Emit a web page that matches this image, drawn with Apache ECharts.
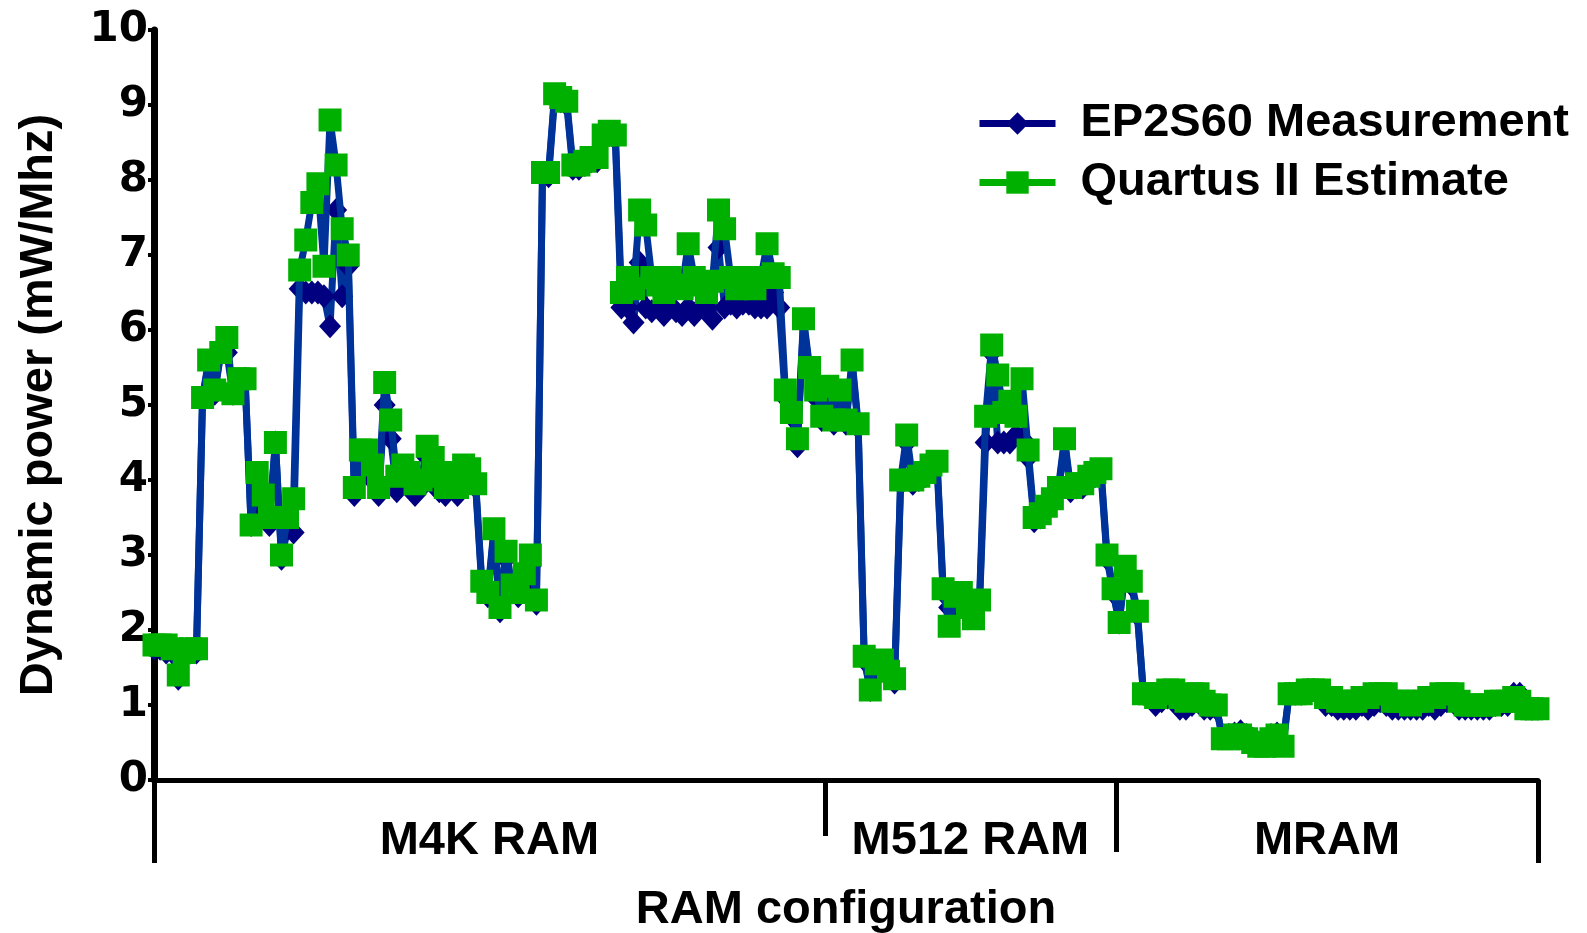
<!DOCTYPE html>
<html><head><meta charset="utf-8">
<script src="https://cdn.jsdelivr.net/npm/echarts@6/dist/echarts.min.js"></script>
<style>html,body{margin:0;padding:0;background:#fff}#c{width:1587px;height:933px}</style>
</head><body><div id="c"></div>
<script>
// ---- Data ----
const groupNames = ['M4K RAM', 'M512 RAM', 'MRAM'];
const yTicks = [0, 1, 2, 3, 4, 5, 6, 7, 8, 9, 10];

const m4kEstimate = [
  1.8, 1.8, 1.8, 1.75, 1.4, 1.7, 1.75, 1.75,
  5.1, 5.6, 5.2, 5.7, 5.9, 5.15, 5.35, 5.35,
  3.4, 4.1, 3.8, 3.5, 4.5, 3.0, 3.5, 3.75,
  6.8, 7.2, 7.7, 7.95, 6.85, 8.8, 8.2, 7.35, 7.0,
  3.9, 4.4, 4.4, 4.2, 3.9, 5.3, 4.8, 4.05, 4.2, 4.1, 3.95, 4.0, 4.45, 4.3, 4.05, 3.9, 4.1, 3.9, 4.2, 4.15, 3.95,
  2.65, 2.5, 3.35, 2.3, 3.05, 2.6, 2.5, 2.75, 3.0, 2.4,
  8.1, 8.1, 9.15, 9.1, 9.05, 8.2, 8.2, 8.25, 8.3, 8.3, 8.6, 8.65, 8.6,
  6.5, 6.7, 6.55, 7.6, 7.4, 6.7, 6.6, 6.5, 6.7, 6.6, 6.55, 7.15, 6.7, 6.6, 6.5, 6.65, 7.6, 7.35, 6.7, 6.55, 6.7, 6.6, 6.55, 6.7, 7.15, 6.75, 6.7,
  5.2, 4.9, 4.55, 6.15, 5.5, 5.2, 4.85
];
const m4kMeasured = [
  1.75, 1.75, 1.7, 1.7, 1.35, 1.65, 1.7, 1.7,
  5.1, 5.55, 5.15, 5.7, 5.7, 5.15, 5.3, 5.35,
  3.4, 4.0, 3.6, 3.4, 4.5, 2.95, 3.35, 3.3,
  6.55, 6.5, 6.5, 6.5, 6.45, 6.05, 7.6, 6.45, 6.85,
  3.8, 4.3, 4.3, 4.0, 3.8, 5.0, 4.55, 3.85, 4.1, 3.95, 3.8, 3.9, 4.3, 4.2, 3.85, 3.8, 4.0, 3.8, 4.1, 4.0, 3.9,
  2.6, 2.45, 3.3, 2.25, 2.95, 2.5, 2.45, 2.6, 2.85, 2.35,
  8.05, 8.05, 9.1, 9.05, 9.0, 8.15, 8.15, 8.2, 8.25, 8.25, 8.55, 8.6, 8.55,
  6.3, 6.3, 6.1, 6.9, 6.3, 6.25, 6.3, 6.2, 6.3, 6.25, 6.2, 6.3, 6.2, 6.3, 6.3, 6.15, 7.1, 6.3, 6.35, 6.3, 6.35, 6.35, 6.3, 6.3, 6.3, 6.5, 6.3,
  5.1, 4.85, 4.45, 6.1, 5.45, 5.1, 4.8
];
const m512Estimate = [
  5.25, 4.8, 5.2, 4.8, 5.6, 4.75,
  1.65, 1.2, 1.55, 1.6, 1.45, 1.35,
  4.0, 4.6, 4.0, 4.05, 4.1, 4.2, 4.25,
  2.55, 2.05, 2.45, 2.5, 2.3, 2.15, 2.4,
  4.85, 5.8, 5.4, 4.9, 5.05, 4.85, 5.35,
  4.4, 3.5, 3.55, 3.65, 3.75, 3.9, 4.55, 3.9, 3.95, 3.95, 4.05, 4.1, 4.15,
  3.0, 2.55
];
const m512Measured = [
  5.15, 4.75, 5.1, 4.75, 5.55, 4.7,
  1.6, 1.2, 1.5, 1.55, 1.4, 1.3,
  3.95, 4.5, 3.95, 4.0, 4.05, 4.15, 4.2,
  2.5, 2.3, 2.3, 2.4, 2.3, 2.2, 2.35,
  4.5, 5.7, 4.5, 4.5, 4.5, 4.6, 4.55,
  4.3, 3.45, 3.5, 3.6, 3.7, 3.85, 4.5, 3.85, 3.9, 3.9, 4.0, 4.05, 4.1,
  2.95, 2.5
];
const mramEstimate = [
  2.1, 2.85, 2.65, 2.25,
  1.15, 1.15, 1.1, 1.15, 1.2, 1.2, 1.1, 1.05, 1.15, 1.15, 1.05, 1.0, 1.0,
  0.55, 0.55, 0.6, 0.6, 0.55, 0.5, 0.45, 0.45, 0.55, 0.6, 0.45,
  1.15, 1.15, 1.15, 1.2, 1.2, 1.2, 1.1, 1.1, 1.05, 1.05, 1.05, 1.05, 1.1, 1.1, 1.15, 1.15, 1.15, 1.05, 1.05, 1.05, 1.0, 1.05, 1.05, 1.1,
  1.1, 1.15, 1.15, 1.15, 1.05, 1.0, 1.0, 1.0, 1.0, 1.0, 1.05, 1.05, 1.05, 1.1, 1.05, 0.95, 0.95, 0.95
];
const mramMeasured = [
  2.1, 2.8, 2.6, 2.2,
  1.15, 1.1, 1.0, 1.05, 1.1, 1.15, 0.95, 0.95, 1.0, 1.05, 0.95, 0.95, 0.95,
  0.6, 0.6, 0.62, 0.65, 0.6, 0.55, 0.5, 0.5, 0.6, 0.62, 0.5,
  1.15, 1.15, 1.15, 1.2, 1.2, 1.15, 1.0, 1.0, 0.95, 0.95, 0.95, 0.95, 1.0, 0.95, 1.0, 1.05, 1.0, 0.95, 0.95, 0.95, 0.95, 0.95, 0.95, 1.0,
  0.95, 1.0, 1.05, 1.05, 0.95, 0.95, 0.95, 0.95, 0.95, 0.95, 1.0, 1.0, 1.0, 1.15, 1.15, 0.95, 0.95, 0.95
];

// ---- Build ----
const measured = [...m4kMeasured, ...m512Measured, ...mramMeasured];
const estimate = [...m4kEstimate, ...m512Estimate, ...mramEstimate];
const configs = estimate.map((_, i) => 'Config ' + (i + 1));
const last = estimate.length - 1;
const b1 = m4kEstimate.length - 0.5;
const b2 = m4kEstimate.length + m512Estimate.length - 0.5;
const labelPos = [(0 + b1) / 2, (b1 + b2) / 2, (b2 + last) / 2];

const FONT = 'Liberation Sans, Arial, sans-serif';
const txt = { fontFamily: FONT, fontWeight: 'bold', fontSize: 47, color: '#000' };

function sepAxis(values, len, withLabels) {
  return {
    type: 'value', min: 0, max: last, position: 'bottom',
    axisLine: { show: false }, splitLine: { show: false },
    axisTick: { show: true, customValues: values, length: len, inside: false,
      lineStyle: { color: '#000', width: 5 } },
    axisLabel: withLabels ? {
      show: true, customValues: labelPos, margin: 38,
      formatter: v => { let k = 0, d = 1e9; labelPos.forEach((p, i) => { if (Math.abs(p - v) < d) { d = Math.abs(p - v); k = i; } }); return groupNames[k]; },
      ...txt
    } : { show: false }
  };
}

const chart = echarts.init(document.getElementById('c'), null, { renderer: 'canvas' });
chart.setOption({
  animation: false,
  backgroundColor: '#fff',
  grid: { left: 154, right: 49, top: 30, bottom: 153, containLabel: false, outerBoundsMode: 'none' },
  legend: {
    orient: 'vertical', left: 971, top: 95,
    itemWidth: 76, itemHeight: 28, itemGap: 12,
    textStyle: { ...txt, padding: [0, 0, 0, 20] },
    data: [
      { name: 'EP2S60 Measurement', itemStyle: { color: '#000080' }, lineStyle: { color: '#000080', width: 7 } },
      { name: 'Quartus II Estimate', itemStyle: { color: '#00b000' }, lineStyle: { color: '#00b000', width: 7 } }
    ]
  },
  xAxis: [
    {
      type: 'category', data: configs, boundaryGap: false,
      axisLine: { show: true, lineStyle: { color: '#000', width: 5 } },
      axisTick: { show: false }, axisLabel: { show: false },
      name: 'RAM configuration', nameLocation: 'middle', nameGap: 107,
      nameTextStyle: txt
    },
    sepAxis([0, last], 83, true),
    sepAxis([b1], 56, false),
    sepAxis([b2], 72, false)
  ],
  yAxis: {
    type: 'value', min: yTicks[0], max: yTicks[yTicks.length - 1], interval: 1,
    axisLine: { show: true, lineStyle: { color: '#000', width: 7 } },
    axisTick: { show: true, length: 6, lineStyle: { color: '#000', width: 4 } },
    splitLine: { show: false },
    axisLabel: { fontFamily: 'DejaVu Sans', fontWeight: 'bold', fontSize: 42, color: '#000', margin: 6 },
    name: 'Dynamic power (mW/Mhz)', nameLocation: 'middle', nameGap: 91, nameRotate: 90,
    nameTextStyle: txt
  },
  series: [
    {
      name: 'EP2S60 Measurement', type: 'line', data: measured, xAxisIndex: 0,
      symbol: 'diamond', symbolSize: [22, 24], showSymbol: true, showAllSymbol: true,
      lineStyle: { color: '#003399', width: 7 }, itemStyle: { color: '#000080' }, z: 2
    },
    {
      name: 'Quartus II Estimate', type: 'line', data: estimate, xAxisIndex: 0,
      symbol: 'rect', symbolSize: 23, showSymbol: true, showAllSymbol: true,
      lineStyle: { color: '#003399', width: 7 }, itemStyle: { color: '#00b000' }, z: 3
    }
  ]
});
</script>
</body></html>
